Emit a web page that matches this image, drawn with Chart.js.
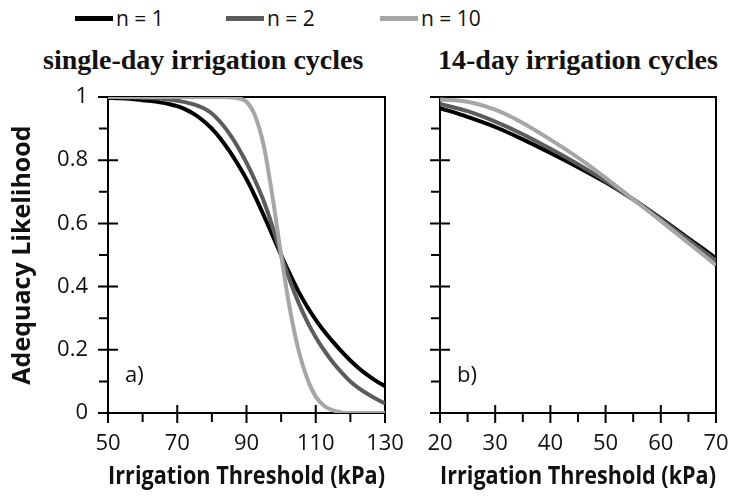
<!DOCTYPE html>
<html>
<head>
<meta charset="utf-8">
<script src="https://cdn.jsdelivr.net/npm/chart.js@4.4.1/dist/chart.umd.min.js"></script>
<style>
html,body{margin:0;padding:0;background:#fff;}
#wrap{position:relative;width:734px;height:497px;overflow:hidden;font-family:"Open Sans",sans-serif;}
#cA{position:absolute;left:0;top:0;}
#cB{position:absolute;left:405px;top:0;}
.leg{position:absolute;top:4px;height:28px;font-size:21px;line-height:28px;color:#111;display:flex;align-items:center;white-space:nowrap;}
.leg .sw{display:inline-block;width:38px;height:5px;margin-right:3px;}
.ttl{position:absolute;top:44px;font-family:"Liberation Serif","Times New Roman",serif;font-weight:bold;font-size:28px;line-height:32px;color:#111;white-space:nowrap;}
</style>
</head>
<body>
<div id="wrap">
  <div id="legend"></div>
  <div id="titles"></div>
  <canvas id="cA" width="410" height="497"></canvas>
  <canvas id="cB" width="329" height="497"></canvas>
</div>
<script>
// ---- data ----
const seriesLabels = ['n = 1', 'n = 2', 'n = 10'];
const seriesColors = ['#000000', '#5c5c5c', '#a6a6a6'];
const panelTitles = ['single-day irrigation cycles', '14-day irrigation cycles'];
const panelTags = ['a)', 'b)'];
const xTitle = 'Irrigation Threshold (kPa)';
const yTitle = 'Adequacy Likelihood';

// panel a: single-day cycles
const pressureA = [50,52.5,55,57.5,60,62.5,65,67.5,70,72.5,75,77.5,80,82.5,85,87.5,90,92.5,95,97.5,100,102.5,105,107.5,110,112.5,115,117.5,120,122.5,125,127.5,130];
const n1A  = [0.997,0.996,0.995,0.993,0.990,0.987,0.983,0.978,0.971,0.960,0.945,0.925,0.900,0.868,0.830,0.787,0.740,0.685,0.625,0.563,0.500,0.440,0.385,0.337,0.295,0.258,0.225,0.194,0.166,0.141,0.120,0.101,0.085];
const n2A  = [1.000,1.000,0.999,0.999,0.998,0.997,0.995,0.992,0.988,0.983,0.976,0.965,0.948,0.920,0.885,0.842,0.792,0.735,0.670,0.590,0.500,0.420,0.350,0.290,0.240,0.197,0.160,0.128,0.100,0.078,0.060,0.044,0.030];
const n10A = [1.000,1.000,1.000,1.000,1.000,1.000,1.000,1.000,1.000,1.000,1.000,1.000,1.000,1.000,0.999,0.996,0.985,0.940,0.845,0.685,0.500,0.330,0.200,0.110,0.052,0.022,0.008,0.002,0.000,0.000,0.000,0.000,0.000];

// panel b: 14-day cycles
const pressureB = [20,25,30,35,40,45,50,55,60,65,70];
const n1B  = [0.965,0.937,0.905,0.866,0.823,0.778,0.730,0.676,0.616,0.553,0.490];
const n2B  = [0.978,0.955,0.922,0.882,0.836,0.787,0.734,0.676,0.613,0.548,0.482];
const n10B = [0.992,0.985,0.960,0.918,0.865,0.808,0.744,0.676,0.608,0.538,0.468];

// ticks
const yTicks = [0, 0.2, 0.4, 0.6, 0.8, 1];
const yMinorTicks = [0.1, 0.3, 0.5, 0.7, 0.9];
const xTicksA = [50, 70, 90, 110, 130];
const xMinorA = [60, 80, 100, 120];
const xTicksB = [20, 30, 40, 50, 60, 70];
const xMinorB = [25, 35, 45, 55, 65];

// ---- legend & panel titles (HTML text) ----
const legendLeft = [75, 226, 380];
const legEl = document.getElementById('legend');
seriesLabels.forEach((lab, i) => {
  const d = document.createElement('div');
  d.className = 'leg';
  d.style.left = legendLeft[i] + 'px';
  d.innerHTML = '<span class="sw" style="background:' + seriesColors[i] + '"></span>' + lab;
  legEl.appendChild(d);
});
const titleLeft = [43, 438];
const ttlEl = document.getElementById('titles');
panelTitles.forEach((t, i) => {
  const d = document.createElement('div');
  d.className = 'ttl';
  d.style.left = titleLeft[i] + 'px';
  d.textContent = t;
  ttlEl.appendChild(d);
});

// ---- plugin: frame box, tick marks, panel tag ----
const framePlugin = {
  id: 'frame',
  beforeDatasetsDraw(chart, args, opts) {
    const {ctx, chartArea: a, scales: {x, y}} = chart;
    ctx.save();
    ctx.strokeStyle = '#000';
    ctx.lineWidth = 2;
    ctx.strokeRect(a.left, a.top, a.right - a.left, a.bottom - a.top);
    ctx.beginPath();
    y.ticks.forEach(t => { const p = y.getPixelForValue(t.value); ctx.moveTo(a.left - 10, p); ctx.lineTo(a.left + 10, p); });
    opts.yMinor.forEach(v => { const p = y.getPixelForValue(v); ctx.moveTo(a.left - 9, p); ctx.lineTo(a.left, p); });
    x.ticks.forEach(t => { const p = x.getPixelForValue(t.value); ctx.moveTo(p, a.bottom - 8); ctx.lineTo(p, a.bottom + 10); });
    opts.xMinor.forEach(v => { const p = x.getPixelForValue(v); ctx.moveTo(p, a.bottom); ctx.lineTo(p, a.bottom + 9); });
    ctx.stroke();
    ctx.font = '22px "Open Sans"';
    ctx.fillStyle = '#111';
    ctx.textBaseline = 'middle';
    ctx.textAlign = 'left';
    ctx.fillText(opts.tag, a.left + 17, a.bottom - 37);
    ctx.restore();
  }
};

function makeDatasets(px, s1, s2, s3) {
  const series = [s1, s2, s3];
  return series.map((s, i) => ({
    label: seriesLabels[i],
    data: px.map((p, j) => ({x: p, y: s[j]})),
    borderColor: seriesColors[i],
    backgroundColor: seriesColors[i],
    borderWidth: 4,
    pointRadius: 0,
    fill: false,
    cubicInterpolationMode: 'monotone',
    order: 3 - i
  }));
}

const tickFont = {family: '"Open Sans"', size: 22};
const titleFont = {family: '"Open Sans"', size: 25, weight: 'bold'};

function makeChart(id, px, s1, s2, s3, xMin, xMax, xTicks, xMinor, showY, yWidth, padRight, tag) {
  return new Chart(document.getElementById(id), {
    type: 'line',
    data: {datasets: makeDatasets(px, s1, s2, s3)},
    options: {
      responsive: false,
      animation: false,
      layout: {padding: {left: 0, top: 97, right: padRight, bottom: 0}},
      plugins: {
        legend: {display: false},
        tooltip: {enabled: false},
        title: {display: false},
        frame: {yMinor: yMinorTicks, xMinor: xMinor, tag: tag}
      },
      scales: {
        x: {
          type: 'linear', min: xMin, max: xMax,
          afterBuildTicks: s => { s.ticks = xTicks.map(v => ({value: v})); },
          afterFit: s => { s.height = 84; s.paddingLeft = 0; s.paddingRight = 0; },
          grid: {display: false, drawTicks: false},
          border: {display: false},
          ticks: {font: tickFont, color: '#111', padding: 18, maxRotation: 0, callback: v => String(v)},
          title: {display: true, text: xTitle, font: titleFont, color: '#111', padding: {top: 0, bottom: 5}}
        },
        y: {
          type: 'linear', min: 0, max: 1,
          afterBuildTicks: s => { s.ticks = yTicks.map(v => ({value: v})); },
          afterFit: s => { s.width = yWidth; s.paddingTop = 0; s.paddingBottom = 0; },
          grid: {display: false, drawTicks: false},
          border: {display: false},
          ticks: {display: showY, font: tickFont, color: '#111', padding: 20, callback: v => String(v)},
          title: {display: showY, text: yTitle, font: titleFont, color: '#111', padding: {top: 8, bottom: 0}}
        }
      }
    },
    plugins: [framePlugin]
  });
}

makeChart('cA', pressureA, n1A, n2A, n10A, 50, 130, xTicksA, xMinorA, true, 108, 25, panelTags[0]);
makeChart('cB', pressureB, n1B, n2B, n10B, 20, 70, xTicksB, xMinorB, false, 35, 18, panelTags[1]);
</script>
</body>
</html>
